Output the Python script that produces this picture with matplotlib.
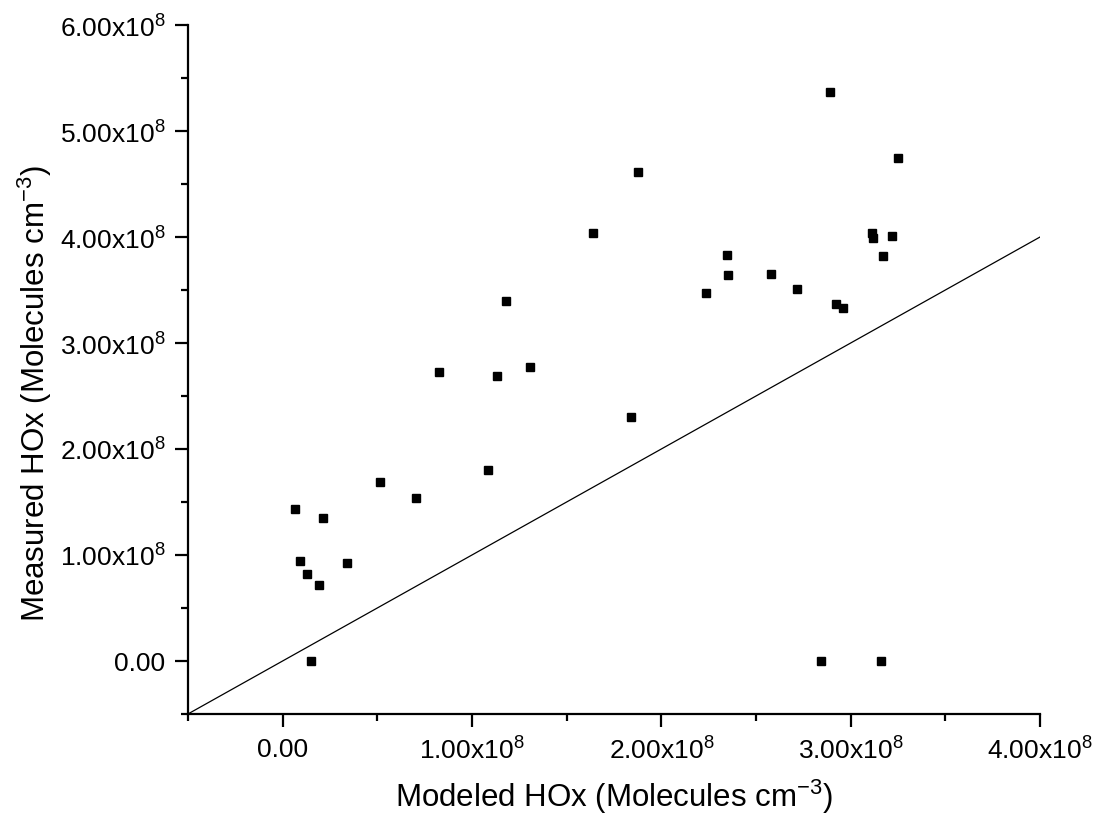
import matplotlib.pyplot as plt
from matplotlib.ticker import FixedLocator, FixedFormatter

plt.rcParams['font.family'] = ['Liberation Sans', 'DejaVu Sans']
plt.rcParams['mathtext.fontset'] = 'custom'
plt.rcParams['mathtext.rm'] = 'Liberation Sans'
plt.rcParams['mathtext.it'] = 'Liberation Sans:italic'
plt.rcParams['mathtext.bf'] = 'Liberation Sans:bold'

scale = 1e8

# modeled vs measured HOx, in units of 1e8 molecules cm^-3
modeled = [0.067, 0.090, 0.130, 0.190, 0.149, 0.213, 0.341, 0.512, 0.706, 0.825,
           1.082, 1.131, 1.182, 1.305, 1.637, 1.842, 1.877, 2.237, 2.348, 2.354,
           2.579, 2.719, 2.844, 2.890, 2.920, 2.957, 3.112, 3.119, 3.159, 3.173,
           3.217, 3.252]
measured = [1.431, 0.946, 0.824, 0.720, 0.0, 1.349, 0.927, 1.692, 1.541, 2.726,
            1.802, 2.689, 3.399, 2.776, 4.041, 2.305, 4.616, 3.469, 3.830, 3.644,
            3.654, 3.509, 0.0, 5.368, 3.371, 3.327, 4.038, 3.991, 0.0, 3.821,
            4.006, 4.745]

# 1:1 line
line_x = [-0.5, 4.0]

xticks = [0, 1, 2, 3, 4]
xticklabels = ['0.00', r'1.00x10$^{8}$', r'2.00x10$^{8}$', r'3.00x10$^{8}$', r'4.00x10$^{8}$']
yticks = [0, 1, 2, 3, 4, 5, 6]
yticklabels = ['0.00', r'1.00x10$^{8}$', r'2.00x10$^{8}$', r'3.00x10$^{8}$',
               r'4.00x10$^{8}$', r'5.00x10$^{8}$', r'6.00x10$^{8}$']

fig = plt.figure(figsize=(10.98, 8.37), dpi=100)
ax = fig.add_axes([0.1712, 0.1458, 0.776, 0.8231])

ax.plot([v * scale for v in line_x], [v * scale for v in line_x], color='black', lw=0.9)
ax.plot([v * scale for v in modeled], [v * scale for v in measured], 's',
        color='black', markersize=5.8, linestyle='none')

ax.set_xlim(-0.5 * scale, 4.0 * scale)
ax.set_ylim(-0.5 * scale, 6.0 * scale)

ax.xaxis.set_major_locator(FixedLocator([v * scale for v in xticks]))
ax.xaxis.set_major_formatter(FixedFormatter(xticklabels))
ax.xaxis.set_minor_locator(FixedLocator([(v - 0.5) * scale for v in xticks]))
ax.yaxis.set_major_locator(FixedLocator([v * scale for v in yticks]))
ax.yaxis.set_major_formatter(FixedFormatter(yticklabels))
ax.yaxis.set_minor_locator(FixedLocator([(v - 0.5) * scale for v in yticks]))

for side in ['top', 'right']:
    ax.spines[side].set_visible(False)
for side in ['left', 'bottom']:
    ax.spines[side].set_linewidth(1.6)

ax.tick_params(which='major', direction='out', length=9.4, width=1.6, labelsize=19, pad=7)
ax.tick_params(which='minor', direction='out', length=5, width=1.6)

ax.set_xlabel(r'Modeled HOx (Molecules cm$^{-3}$)', fontsize=22.5, labelpad=9)
ax.set_ylabel(r'Measured HOx (Molecules cm$^{-3}$)', fontsize=22.5)
ax.yaxis.set_label_coords(-0.157, 0.466)

fig.savefig('out.png', dpi=100)
